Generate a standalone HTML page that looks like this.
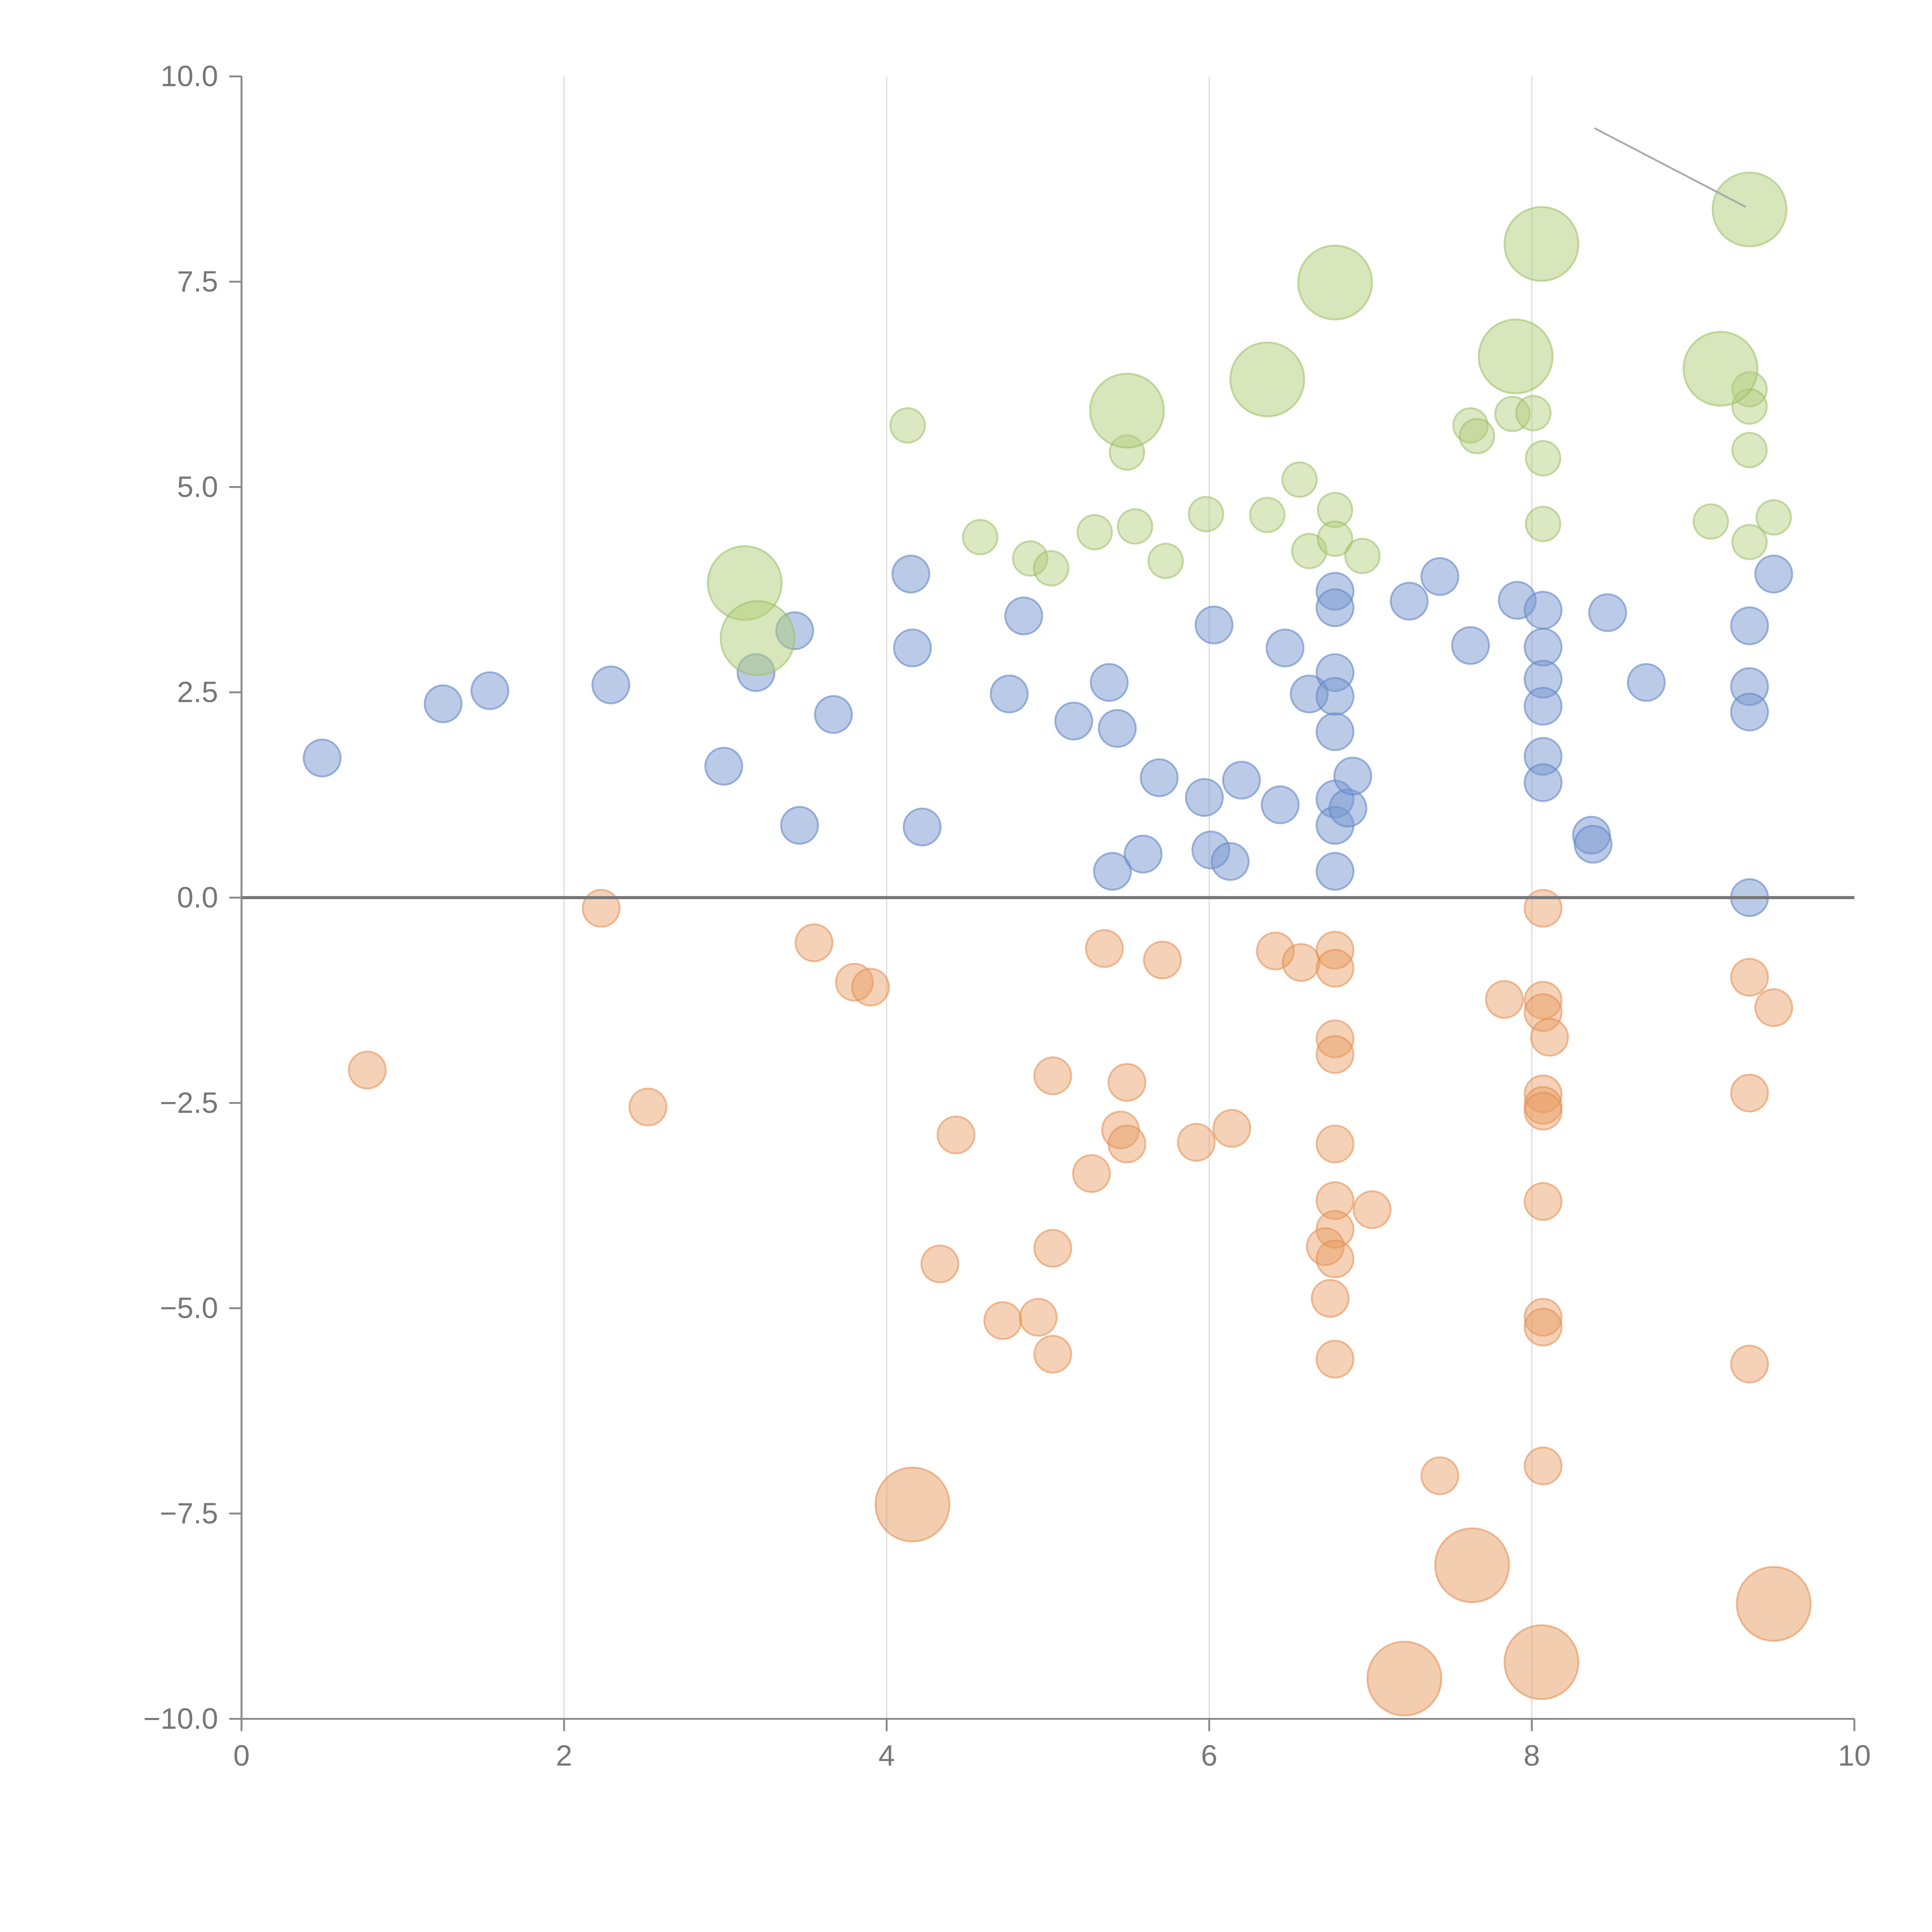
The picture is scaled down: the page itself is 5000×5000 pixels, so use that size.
<!DOCTYPE html>
<html><head><meta charset="utf-8"><style>html,body{margin:0;padding:0;background:#fff}svg{display:block}</style></head>
<body>
<svg id="chart" width="5000" height="5000" viewBox="0 0 1568 1568" xmlns="http://www.w3.org/2000/svg" font-family="Liberation Sans, sans-serif">
<g id="grid"></g>
<g id="bubbles"></g>
<g id="axes"></g>
<line x1="1294" y1="104" x2="1417" y2="168" stroke="#aaa" stroke-width="1.5"/>
</svg>
<script>
const xTicks = [0,2,4,6,8,10];
const yTicks = [-10,-7.5,-5,-2.5,0,2.5,5,7.5,10];
const blueX = [0.5,1.25,1.54,2.29,2.99,3.19,3.43,3.46,3.67,4.15,4.16,4.22,4.76,4.85,5.16,5.38,5.4,5.43,5.59,5.69,5.97,6.01,6.03,6.13,6.2,6.44,6.47,6.62,6.78,6.78,6.78,6.78,6.78,6.78,6.78,6.78,6.86,6.89,7.24,7.43,7.62,7.91,8.07,8.07,8.07,8.07,8.07,8.07,8.37,8.38,8.47,8.71,9.35,9.35,9.35,9.35,9.5];
const blueY = [1.7,2.36,2.52,2.59,1.6,2.74,3.25,0.88,2.23,3.94,3.04,0.86,2.48,3.43,2.15,2.62,0.32,2.06,0.53,1.46,1.22,0.58,3.32,0.44,1.43,1.13,3.04,2.48,3.73,3.53,2.74,2.45,2.02,1.2,0.88,0.32,1.09,1.48,3.61,3.91,3.07,3.62,3.5,3.05,2.66,2.33,1.72,1.4,0.76,0.65,3.47,2.62,3.31,2.57,2.26,0,3.94];
const greenX = [4.13,4.58,4.89,5.02,5.29,5.49,5.54,5.73,5.98,6.36,6.56,6.62,6.78,6.78,6.95,7.62,7.66,7.88,8.01,8.07,8.07,9.11,9.35,9.35,9.35,9.35,9.5];
const greenY = [5.75,4.39,4.13,4.01,4.45,5.42,4.52,4.1,4.67,4.66,5.09,4.22,4.72,4.37,4.16,5.75,5.62,5.89,5.9,5.35,4.55,4.58,6.19,5.98,5.45,4.33,4.63];
const greenBigX = [3.12,3.2,5.49,6.36,6.78,7.9,8.06,9.17,9.35];
const greenBigY = [3.83,3.16,5.93,6.31,7.49,6.59,7.96,6.44,8.38];
const orangeX = [2.23,0.78,2.52,3.55,3.8,3.9,4.43,4.33,4.72,4.94,5.03,5.03,5.03,5.27,5.35,5.45,5.49,5.49,5.71,5.92,6.14,6.41,6.57,6.78,6.78,6.78,6.78,6.78,6.78,6.78,6.72,6.78,6.75,6.78,7.01,7.43,7.83,8.07,8.07,8.07,8.11,8.07,8.07,8.07,8.07,8.07,8.07,8.07,9.35,9.35,9.35,9.5];
const orangeY = [-0.13,-2.1,-2.55,-0.55,-1.03,-1.09,-2.89,-4.46,-5.15,-5.11,-5.56,-4.27,-2.17,-3.36,-0.62,-2.83,-2.25,-3.0,-0.76,-2.98,-2.81,-0.65,-0.79,-0.64,-0.86,-1.72,-1.91,-3.0,-3.69,-4.04,-4.25,-4.4,-4.88,-5.62,-3.8,-7.04,-1.24,-0.13,-1.25,-1.4,-1.7,-2.39,-2.53,-2.6,-3.7,-5.11,-5.23,-6.92,-0.97,-2.38,-5.68,-1.34];
const orangeBigX = [4.16,7.63,8.06,7.21,9.5];
const orangeBigY = [-7.39,-8.13,-9.31,-9.51,-8.6];

const NS='http://www.w3.org/2000/svg';
const X0=196,X1=1505,Y0=1395,Y1=62;
const xs=v=>X0+(v-0)/10*(X1-X0);
const ys=v=>Y0-(v+10)/20*(Y0-Y1);
function mk(tag,attrs,parent){const e=document.createElementNS(NS,tag);for(const k in attrs)e.setAttribute(k,attrs[k]);parent.appendChild(e);return e;}
const grid=document.getElementById('grid'),bub=document.getElementById('bubbles'),ax=document.getElementById('axes');
xTicks.forEach(t=>{if(t>0&&t<10){const l=mk('line',{x1:xs(t),x2:xs(t),y1:Y1,y2:Y0,stroke:'#ddd','stroke-width':1},grid);

}});
function series(X,Y,r,fill,stroke,name){X.forEach((x,i)=>{const c=mk('circle',{cx:xs(x),cy:ys(Y[i]),r:r,fill:fill,stroke:stroke,'stroke-width':1.5},bub);

});}
series(blueX,blueY,15,'rgba(120,152,208,0.5)','rgba(100,135,200,0.6)','blue-bubble');
series(greenX,greenY,14,'rgba(175,205,120,0.45)','rgba(155,190,100,0.55)','green-bubble');
series(greenBigX,greenBigY,30,'rgba(175,205,120,0.5)','rgba(155,190,100,0.55)','green-big-bubble');
series(orangeX,orangeY,15,'rgba(232,155,95,0.45)','rgba(225,140,80,0.55)','orange-bubble');
series(orangeBigX,orangeBigY,30,'rgba(232,155,95,0.5)','rgba(225,140,80,0.55)','orange-big-bubble');
let z=mk('line',{x1:X0,x2:X1,y1:ys(0),y2:ys(0),stroke:'#777','stroke-width':2.5},ax);


let yl=mk('line',{x1:X0,x2:X0,y1:Y1,y2:Y0,stroke:'#888','stroke-width':1.5},ax);


let xl=mk('line',{x1:X0,x2:X1,y1:Y0,y2:Y0,stroke:'#888','stroke-width':1.5},ax);


yTicks.forEach(t=>{mk('line',{x1:X0-10,x2:X0,y1:ys(t),y2:ys(t),stroke:'#888','stroke-width':1.5},ax);
const tx=mk('text',{x:X0-19,y:ys(t)+8,'text-anchor':'end','font-size':24,fill:'#777'},ax);


tx.textContent=(t<0?'\u2212':'')+Math.abs(t).toFixed(1);});
xTicks.forEach(t=>{mk('line',{x1:xs(t),x2:xs(t),y1:Y0,y2:Y0+10,stroke:'#888','stroke-width':1.5},ax);
const tx=mk('text',{x:xs(t),y:Y0+38,'text-anchor':'middle','font-size':24,fill:'#777'},ax);


tx.textContent=String(t);});
</script>
</body></html>
